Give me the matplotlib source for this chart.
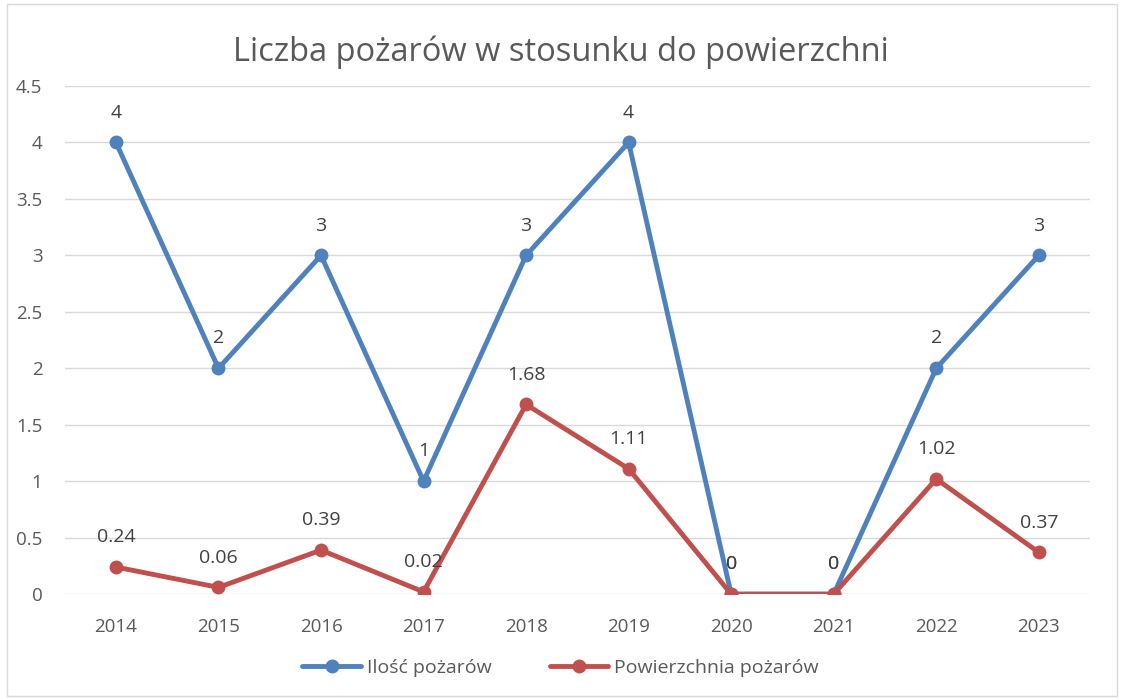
import matplotlib.pyplot as plt
from matplotlib.patches import Rectangle

years = ['2014', '2015', '2016', '2017', '2018', '2019', '2020', '2021', '2022', '2023']
ilosc = [4, 2, 3, 1, 3, 4, 0, 0, 2, 3]
powierzchnia = [0.24, 0.06, 0.39, 0.02, 1.68, 1.11, 0, 0, 1.02, 0.37]
yticks = [0, 0.5, 1, 1.5, 2, 2.5, 3, 3.5, 4, 4.5]

plt.rcParams['font.family'] = ['Open Sans', 'DejaVu Sans']
gray = '#595959'
blue = '#4F81BD'
red = '#C0504D'

fig = plt.figure(figsize=(11.21, 6.99), dpi=100)
fig.patches.append(Rectangle((0.006, 0.004), 0.99, 0.99, transform=fig.transFigure,
                             fill=False, edgecolor='#D9D9D9', linewidth=1))
ax = fig.add_axes([0.0577, 0.150, 0.9147, 0.727])

x = list(range(len(years)))
ax.plot(x, ilosc, color=blue, linewidth=3.5, marker='o', markersize=9,
        label='Ilość pożarów', solid_capstyle='round')
ax.plot(x, powierzchnia, color=red, linewidth=3.5, marker='o', markersize=9,
        label='Powierzchnia pożarów', solid_capstyle='round')

fs = 13.5
for i, v in enumerate(ilosc):
    ax.annotate(f'{v:g}', (i, v), textcoords='offset points', xytext=(0, 15),
                ha='center', va='bottom', fontsize=14, color='#404040')
for i, v in enumerate(powierzchnia):
    ax.annotate(f'{v:g}', (i, v), textcoords='offset points', xytext=(0, 15),
                ha='center', va='bottom', fontsize=14, color='#404040')

ax.set_xlim(-0.5, len(years) - 0.5)
ax.set_ylim(0, 4.5)
ax.set_yticks(yticks)
ax.set_yticklabels([f'{t:g}' for t in yticks])
ax.set_xticks(x)
ax.set_xticklabels(years)
ax.tick_params(axis='both', length=0, labelsize=fs, labelcolor=gray)
ax.tick_params(axis='x', pad=17)
ax.tick_params(axis='y', pad=16)
ax.grid(axis='y', color='#D9D9D9', linewidth=1)
ax.set_axisbelow(True)
for s in ax.spines.values():
    s.set_visible(False)

fig.text(0.5, 0.925, 'Liczba pożarów w stosunku do powierzchni', ha='center', va='center',
         fontsize=23.5, color=gray)
fig.legend(loc='center', bbox_to_anchor=(0.5, 0.045), ncol=2, frameon=False,
           fontsize=14, labelcolor=gray, handlelength=3, columnspacing=3,
           handletextpad=0.3)

fig.savefig('out.png', dpi=100)
